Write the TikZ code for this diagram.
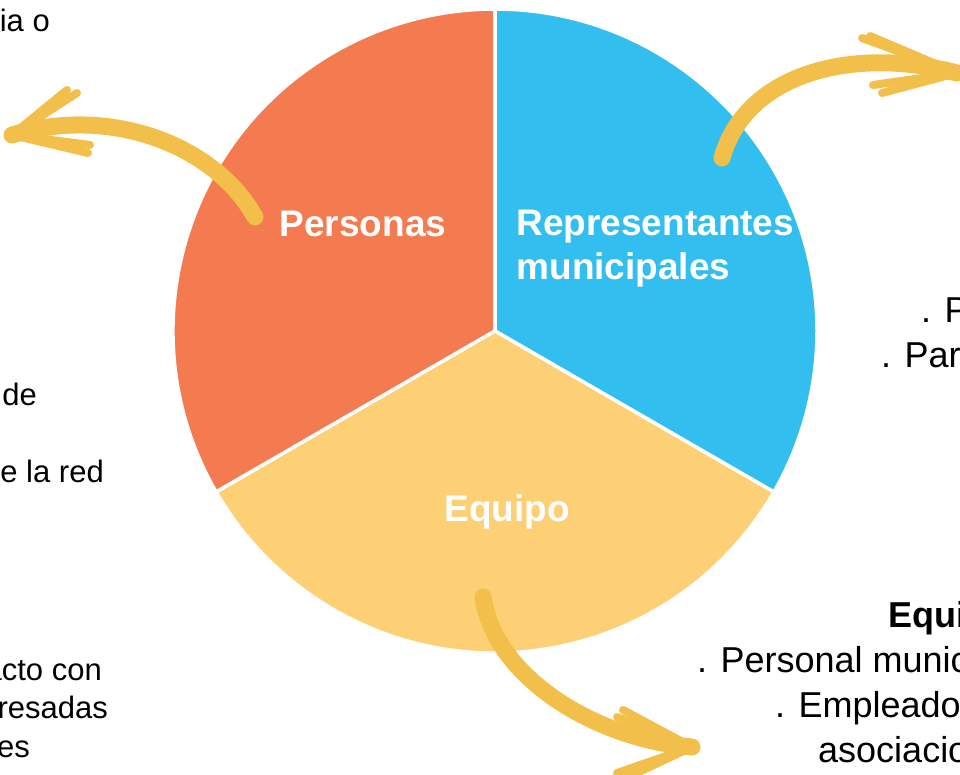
\documentclass[tikz,border=0pt]{standalone}
\usepackage{fontspec}
\setmainfont{Liberation Sans}
\usepackage{xcolor}
\usepackage{tikz}

\definecolor{persOrange}{RGB}{244,122,80}
\definecolor{repBlue}{RGB}{51,190,240}
\definecolor{eqYellow}{RGB}{254,208,118}
\definecolor{brush}{RGB}{242,192,74}

\tikzset{
  sector/.style={draw=white, line width=3.5},
  label/.style={text=white, font=\fontsize{37}{44}\selectfont\bfseries},
  sidetxt/.style={font=\fontsize{31}{39}\selectfont, inner sep=0},
  maintxt/.style={font=\fontsize{36}{45}\selectfont, inner sep=0},
  shaft/.style={brush, line width=17, line cap=round},
  barb/.style={brush, line width=8, line cap=round}
}

\begin{document}
\begin{tikzpicture}[x=1pt, y=-1pt]
\useasboundingbox (0,0) rectangle (960,775);
\clip (0,0) rectangle (960,775);

\coordinate (c) at (495,331);

% Personas (orange)
\fill[persOrange, sector] (c) -- +(150:322) arc[start angle=150, end angle=270, radius=322] -- cycle;
% Representantes municipales (blue)
\fill[repBlue, sector] (c) -- +(-90:322) arc[start angle=-90, end angle=30, radius=322] -- cycle;
% Equipo (yellow)
\fill[eqYellow, sector] (c) -- +(30:322) arc[start angle=30, end angle=150, radius=322] -- cycle;

\node[label] (pers) at (363,224) {Personas};
\node[label, align=left, anchor=north west] (rep) at (513,207) {Representantes\\municipales};
\node[label] (eq) at (507,512) {Equipo};

% left texts
\node[sidetxt, anchor=base east] (l1) at (50,32) {ia o};
\node[sidetxt, anchor=base east] (l2) at (37,405) {de};
\node[sidetxt, anchor=base east] (l3) at (104,482) {e la red};
\node[sidetxt, anchor=base east] (l4) at (102,680) {acto con};
\node[sidetxt, anchor=base east] (l5) at (108,718) {resadas};
\node[sidetxt, anchor=base east] (l6) at (30,757) {es};

% right texts
\node[maintxt, anchor=base west] (r1) at (921,323) {. P};
\node[maintxt, anchor=base west] (r2) at (881,367) {. Par};
\node[maintxt, anchor=base west, font=\fontsize{36}{45}\selectfont\bfseries] (r3) at (888,627) {Equi};
\node[maintxt, anchor=base west] (r4) at (697,672) {. Personal munic};
\node[maintxt, anchor=base west] (r5) at (775,717) {. Empleado};
\node[maintxt, anchor=base west] (r6) at (818,762) {asociacio};

% arrows
\coordinate (aTail1) at (255,217);
\coordinate (aTip1) at (12,135);
\draw[shaft] (aTail1) .. controls (215,145) and (110,105) .. (aTip1);
\draw[barb] (aTip1) -- (67,90);
\draw[barb] (aTip1) -- (77,93);
\draw[barb] (aTip1) -- (90,145);
\draw[barb] (aTip1) -- (88,153);

\coordinate (aTail2) at (722,158);
\coordinate (aTip2) at (957,73);
\draw[shaft] (aTail2) .. controls (745,75) and (850,45) .. (aTip2);
\draw[barb] (aTip2) -- (862,38);
\draw[barb] (aTip2) -- (870,36);
\draw[barb] (aTip2) -- (873,85);
\draw[barb] (aTip2) -- (882,93);

\coordinate (aTail3) at (483,597);
\coordinate (aTip3) at (692,747);
\draw[shaft] (aTail3) .. controls (495,680) and (600,740) .. (aTip3);
\draw[barb] (aTip3) -- (617,717);
\draw[barb] (aTip3) -- (623,710);
\draw[barb] (aTip3) -- (617,773);
\draw[barb] (aTip3) -- (626,778);
\end{tikzpicture}
\end{document}
